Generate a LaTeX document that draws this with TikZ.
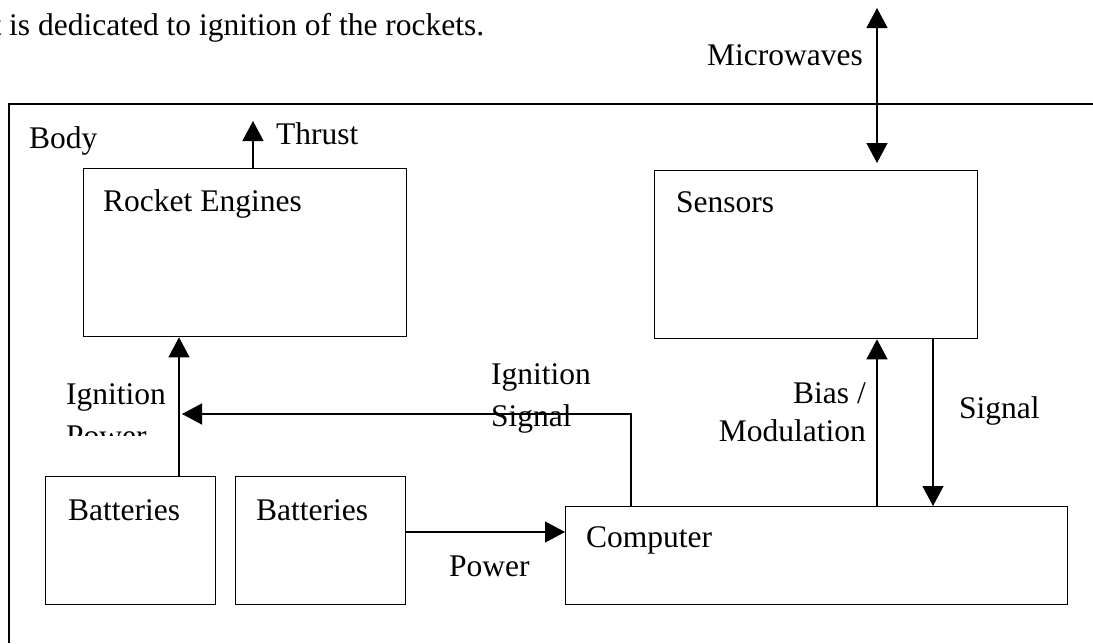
\documentclass[tikz,border=0pt]{standalone}
\usepackage{fontspec}
\setmainfont{Liberation Serif}
\usetikzlibrary{arrows.meta}
\tikzset{
  box/.style={draw, line width=1.3pt, rectangle, inner sep=0pt, anchor=north west},
  lbl/.style={inner sep=0pt, anchor=base west},
  lblr/.style={inner sep=0pt, anchor=base east},
  conn/.style={line width=1.3pt},
  arr/.style={conn, -{Triangle[length=20pt,width=21pt]}},
  darr/.style={conn, {Triangle[length=20pt,width=21pt]}-{Triangle[length=20pt,width=21pt]}},
}
\begin{document}
\begin{tikzpicture}[x=1pt,y=-1pt,font=\fontsize{31.5}{36}\selectfont]
\useasboundingbox (0,0) rectangle (1093,643);
% body frame
\draw[conn] (1093,104) -- (9,104) -- (9,643);
% boxes
\node[box, minimum width=323pt, minimum height=168pt] (rocket) at (83,168) {};
\node[box, minimum width=323pt, minimum height=168pt] (sensors) at (654,170) {};
\node[box, minimum width=170pt, minimum height=128pt] (batt1) at (45,476) {};
\node[box, minimum width=170pt, minimum height=128pt] (batt2) at (235,476) {};
\node[box, minimum width=502pt, minimum height=98pt] (computer) at (565,506) {};
% texts
\node[lbl] (toptext) at (9,35) {is dedicated to ignition of the rockets.};
\begin{scope}
  \clip (0,0) rectangle (4,60);
  \node[lblr] (topfrag) at (1.5,35) {t};
\end{scope}
\node[lbl] (bodylbl) at (29,148) {Body};
\node[lbl] (thrustlbl) at (276,144) {Thrust};
\node[lbl] (rocketlbl) at (103,211) {Rocket Engines};
\node[lbl] (mwlbl) at (707,65) {Microwaves};
\node[lbl] (sensorslbl) at (676,212) {Sensors};
\node[lbl] (batt1lbl) at (68,520) {Batteries};
\node[lbl] (batt2lbl) at (256,520) {Batteries};
\node[lbl] (computerlbl) at (586,547) {Computer};
\node[lbl] (powerlbl) at (449,576) {Power};
\node[lbl] (signallbl) at (959,418) {Signal};
\begin{scope}
  \clip (0,300) rectangle (165,435);
  \node[lbl] (igplbl1) at (66,404) {Ignition};
  \node[lbl] (igplbl2) at (66,446) {Power};
\end{scope}
\begin{scope}
  \clip (420,340) rectangle (591,440);
  \node[lbl] (igslbl1) at (491,384) {Ignition};
  \node[lbl] (igslbl2) at (491,426) {Signal};
\end{scope}
\begin{scope}
  \clip (700,360) rectangle (865,455);
  \node[lblr] (biaslbl1) at (866,403) {Bias /};
  \node[lblr] (biaslbl2) at (866,441) {Modulation};
\end{scope}
% free ends
\coordinate (thrusttip) at (253,121);
\coordinate (mwtop) at (877,8);
\coordinate (igtip) at (182,414);
% connectors
\draw[arr] (253,0 |- rocket.north) -- (thrusttip);
\draw[darr, shorten >=7pt] (mwtop) -- (877,0 |- sensors.north);
\draw[arr] (179,0 |- batt1.north) -- (179,0 |- rocket.south);
\draw[arr] (631,0 |- computer.north) |- (igtip);
\draw[arr] (877,0 |- computer.north) -- (877,0 |- sensors.south);
\draw[arr] (933,0 |- sensors.south) -- (933,0 |- computer.north);
\draw[arr] (batt2.east |- 0,532) -- (computer.west |- 0,532);
\end{tikzpicture}
\end{document}
